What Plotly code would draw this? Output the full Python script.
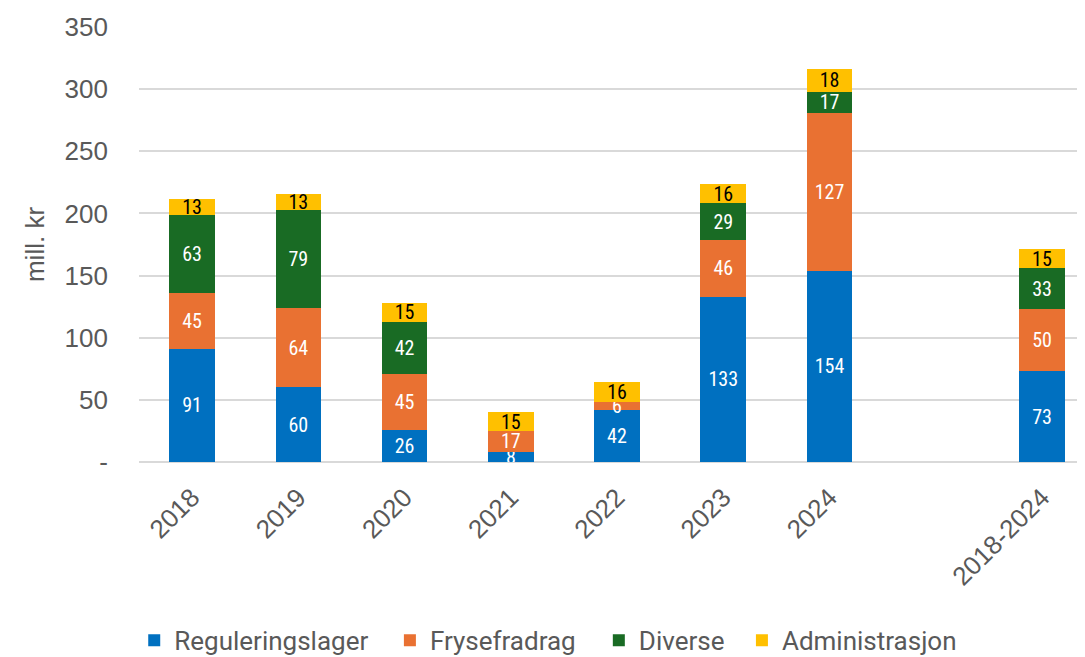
import plotly.graph_objects as go

categories = ["2018", "2019", "2020", "2021", "2022", "2023", "2024", " ", "2018-2024"]
reguleringslager = [91, 60, 26, 8, 42, 133, 154, None, 73]
frysefradrag = [45, 64, 45, 17, 6, 46, 127, None, 50]
diverse = [63, 79, 42, None, None, 29, 17, None, 33]
administrasjon = [13, 13, 15, 15, 16, 16, 18, None, 15]

y_tickvals = [0, 50, 100, 150, 200, 250, 300, 350]
y_ticktext = ["-", "50", "100", "150", "200", "250", "300", "350"]

series = [
    ("Reguleringslager", reguleringslager, "#0070C0", "white"),
    ("Frysefradrag", frysefradrag, "#E97132", "white"),
    ("Diverse", diverse, "#196B24", "white"),
    ("Administrasjon", administrasjon, "#FFC000", "black"),
]
legend_ids = ["legend", "legend2", "legend3", "legend4"]
legend_x = [-0.005, 0.263, 0.482, 0.632]

label_font = "Liberation Sans Narrow, Roboto Condensed, Roboto, sans-serif"

fig = go.Figure()
for (name, vals, color, tcolor), lid in zip(series, legend_ids):
    fig.add_trace(go.Bar(
        name=name, x=categories, y=vals, legend=lid, showlegend=True,
        marker=dict(color=color, line=dict(width=0)),
        text=[str(v) if v is not None else "" for v in vals],
        textposition="inside", insidetextanchor="middle", textangle=0,
        textfont=dict(color=tcolor, size=20, family=label_font),
        width=0.43,
    ))

legend_common = dict(
    orientation="h", xanchor="left", y=-0.41, yanchor="middle",
    font=dict(size=26, color="#595959", family="Roboto, sans-serif"),
    itemsizing="constant", bgcolor="rgba(0,0,0,0)",
)

fig.update_layout(
    barmode="stack",
    showlegend=True,
    width=1085, height=657,
    margin=dict(l=131, r=0, t=19, b=203),
    plot_bgcolor="white", paper_bgcolor="white",
    uniformtext=dict(minsize=20, mode="show"),
    font=dict(family="Liberation Sans, Arial, sans-serif", color="#595959"),
    xaxis=dict(
        type="category", categoryorder="array", categoryarray=categories,
        range=[-0.5, 8.48], tickangle=-45, showgrid=False,
        tickfont=dict(size=26, color="#595959"),
        showline=False, ticks="", automargin=False,
        ticklabelshift=0, ticklabelstandoff=14,
    ),
    yaxis=dict(
        range=[0, 350], tickvals=y_tickvals, ticktext=y_ticktext,
        showgrid=True, gridcolor="#D9D9D9", gridwidth=1.5,
        zeroline=True, zerolinecolor="#D9D9D9", zerolinewidth=2,
        tickfont=dict(size=26, color="#595959"),
        ticklabelstandoff=30, automargin=False,
        title=dict(text="mill. kr", font=dict(size=26, color="#595959"), standoff=12),
    ),
    bargap=0.57,
)
for lid, lx in zip(legend_ids, legend_x):
    fig.update_layout({lid: dict(legend_common, x=lx)})

fig.write_html("out.html")
